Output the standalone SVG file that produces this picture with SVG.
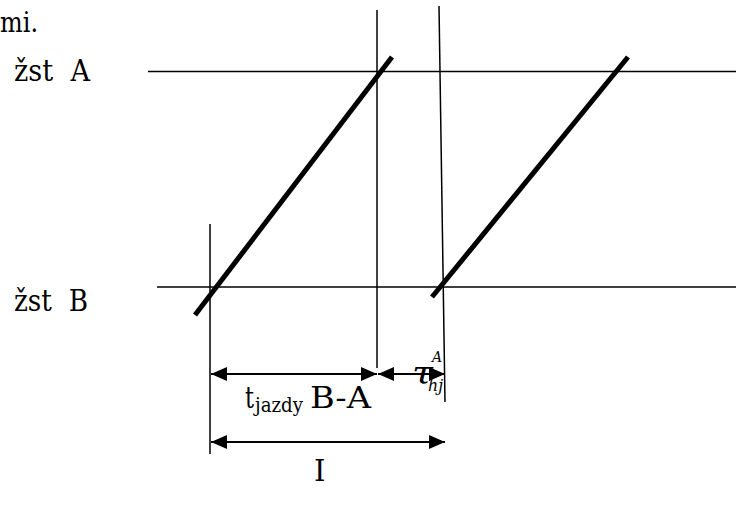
<svg xmlns="http://www.w3.org/2000/svg" width="736" height="507" viewBox="0 0 736 507">
<defs>
<marker id="ah" viewBox="0 0 16 14" refX="16" refY="7" markerWidth="16" markerHeight="14" markerUnits="userSpaceOnUse" orient="auto-start-reverse">
<path d="M0,0 L16,7 L0,14 Z" fill="#000"/>
</marker>
<style>
text{font-family:"DejaVu Serif",serif;fill:#000}
.i{font-style:italic}
.thin{stroke:#000;stroke-width:1.5;fill:none}
.thick{stroke:#000;stroke-width:5;fill:none}
.arr{stroke:#000;stroke-width:2;fill:none;marker-start:url(#ah);marker-end:url(#ah)}
</style>
</defs>
<rect width="736" height="507" fill="#fff"/>
<g id="labels">
<text x="0" y="32" font-size="28" textLength="38" lengthAdjust="spacingAndGlyphs">mi.</text>
<text x="14" y="81" font-size="29" textLength="76" lengthAdjust="spacingAndGlyphs" xml:space="preserve">žst  A</text>
<text x="14" y="311" font-size="29" textLength="74" lengthAdjust="spacingAndGlyphs" xml:space="preserve">žst  B</text>
</g>
<g id="station-A"><line class="thin" x1="148" y1="71.5" x2="736" y2="71.5"/></g>
<g id="station-B"><line class="thin" x1="157" y1="287" x2="736" y2="287"/></g>
<g id="train1"><line class="thick" x1="195" y1="315" x2="392" y2="57"/></g>
<g id="train2"><line class="thick" x1="432" y1="297" x2="628" y2="57"/></g>
<g id="connectors">
<line class="thin" x1="210" y1="224" x2="210" y2="454"/>
<line class="thin" x1="377" y1="10" x2="377" y2="368"/>
<line class="thin" x1="439" y1="6" x2="445" y2="402"/>
<line class="arr" x1="211" y1="374" x2="377" y2="374"/>
<line class="arr" x1="378" y1="374" x2="445" y2="374"/>
<line class="arr" x1="211" y1="442" x2="445" y2="442"/>
</g>
<g id="dim-labels">
<text x="245" y="408" font-size="29" textLength="9" lengthAdjust="spacingAndGlyphs">t</text>
<text x="255" y="412" font-size="20" textLength="48" lengthAdjust="spacingAndGlyphs">jazdy</text>
<text x="310" y="408" font-size="29" textLength="61" lengthAdjust="spacingAndGlyphs">B-A</text>
<text class="i" x="412" y="384" font-size="32" textLength="21" lengthAdjust="spacingAndGlyphs">τ</text>
<text class="i" x="432" y="362" font-size="14">A</text>
<text class="i" x="428" y="391" font-size="16" textLength="15" lengthAdjust="spacingAndGlyphs">hj</text>
<text x="314" y="481" font-size="29">I</text>
</g>
</svg>
